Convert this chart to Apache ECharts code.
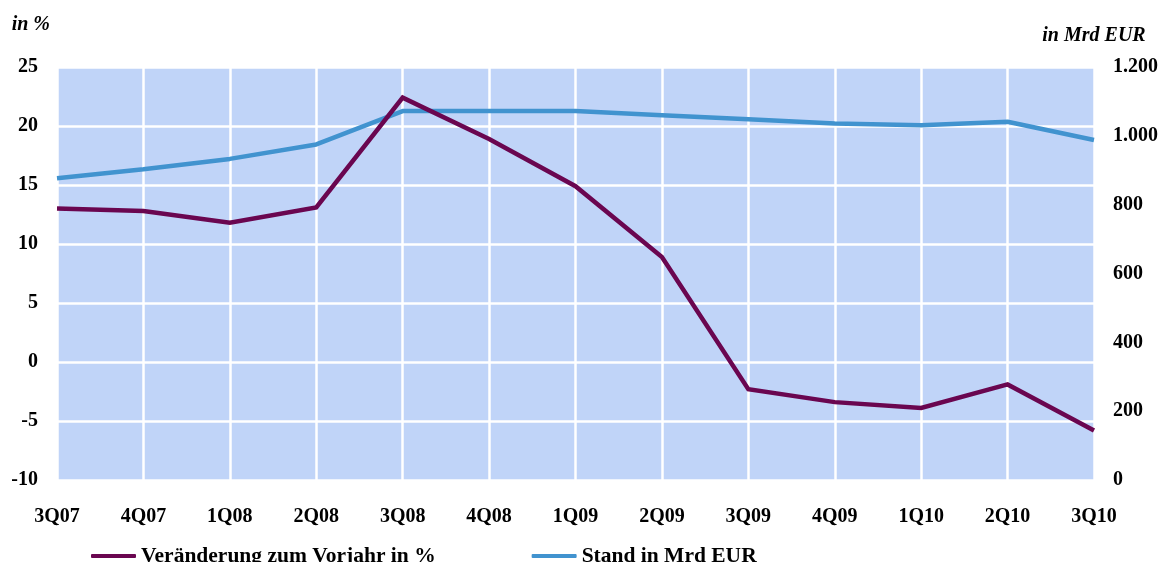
<!DOCTYPE html>
<html>
<head>
<meta charset="utf-8">
<script src="https://cdn.jsdelivr.net/npm/echarts@6/dist/echarts.min.js"></script>
<style>
  html, body { margin: 0; padding: 0; background: #ffffff; }
  #chart { width: 1166px; height: 562px; }
</style>
</head>
<body>
<div id="chart"></div>
<script>
// Quarterly categories
const quarters = ['3Q07', '4Q07', '1Q08', '2Q08', '3Q08', '4Q08', '1Q09', '2Q09', '3Q09', '4Q09', '1Q10', '2Q10', '3Q10'];
// Change versus previous year, in percent (left axis)
const changeYoY = [13.0, 12.8, 11.8, 13.1, 22.4, 18.9, 14.9, 8.9, -2.3, -3.4, -3.9, -1.9, -5.8];
// Outstanding amount, in billion EUR (right axis)
const stockBn = [877, 903, 933, 975, 1072, 1072, 1072, 1060, 1048, 1036, 1031, 1041, 988];

const seriesNames = ['Veränderung zum Vorjahr in %', 'Stand in Mrd EUR'];

const FONT = '"Liberation Serif", "DejaVu Serif", serif';
const PURPLE = '#6a0650';
const BLUE = '#4193cf';

const chart = echarts.init(document.getElementById('chart'), null, { renderer: 'canvas' });

const labelStyle = { color: '#000', fontFamily: FONT, fontWeight: 'bold', fontSize: 20 };

chart.setOption({
  animation: false,
  backgroundColor: '#ffffff',
  grid: {
    left: 57, right: 72, top: 67, bottom: 82,
    show: true, backgroundColor: '#c0d4f8', borderWidth: 0
  },
  legend: {
    left: 86, top: 540,
    itemGap: 96,
    itemWidth: 45, itemHeight: 4,
    icon: 'roundRect',
    data: seriesNames,
    textStyle: { color: '#000', fontFamily: FONT, fontWeight: 'bold', fontSize: 21.5 }
  },
  xAxis: {
    type: 'category',
    data: quarters,
    boundaryGap: false,
    axisLine: { show: false },
    axisTick: { show: false },
    axisLabel: Object.assign({ margin: 27, interval: 0 }, labelStyle),
    splitLine: { show: true, lineStyle: { color: '#ffffff', width: 2.5 } }
  },
  yAxis: [
    {
      type: 'value',
      min: -10, max: 25, interval: 5,
      name: 'in %',
      nameLocation: 'end',
      nameGap: 32,
      nameTextStyle: { color: '#000', fontFamily: FONT, fontWeight: 'bold', fontStyle: 'italic', fontSize: 20, align: 'right', padding: [0, 7, 0, 0] },
      axisLine: { show: false },
      axisTick: { show: false },
      axisLabel: Object.assign({ margin: 19 }, labelStyle),
      splitLine: { show: true, lineStyle: { color: '#ffffff', width: 2.5 } }
    },
    {
      type: 'value',
      min: 0, max: 1200, interval: 200,
      position: 'right',
      name: 'in Mrd EUR',
      nameLocation: 'end',
      nameGap: 21,
      nameTextStyle: { color: '#000', fontFamily: FONT, fontWeight: 'bold', fontStyle: 'italic', fontSize: 20, align: 'center' },
      axisLine: { show: false },
      axisTick: { show: false },
      axisLabel: Object.assign({
        margin: 19,
        formatter: v => v >= 1000 ? Math.floor(v / 1000) + '.' + String(v % 1000).padStart(3, '0') : String(v)
      }, labelStyle),
      splitLine: { show: false }
    }
  ],
  series: [
    {
      name: seriesNames[0],
      type: 'line',
      yAxisIndex: 0,
      data: changeYoY,
      symbol: 'none',
      lineStyle: { color: PURPLE, width: 4.5, join: 'miter' },
      itemStyle: { color: PURPLE },
      z: 3
    },
    {
      name: seriesNames[1],
      type: 'line',
      yAxisIndex: 1,
      data: stockBn,
      symbol: 'none',
      lineStyle: { color: BLUE, width: 4.5 },
      itemStyle: { color: BLUE },
      z: 2
    }
  ]
});
</script>
</body>
</html>
